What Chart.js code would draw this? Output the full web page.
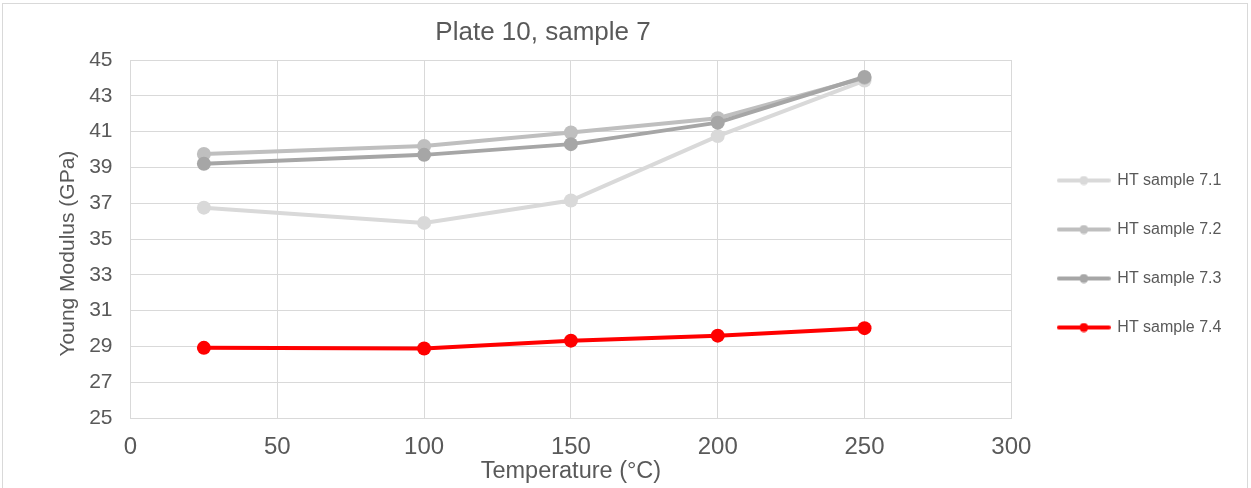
<!DOCTYPE html>
<html>
<head>
<meta charset="utf-8">
<script src="https://cdn.jsdelivr.net/npm/chart.js@4.4.1/dist/chart.umd.min.js"></script>
<style>
  html, body { margin: 0; padding: 0; background: #ffffff; }
  #wrap { position: relative; width: 1251px; height: 488px; }
</style>
</head>
<body>
<div id="wrap"><canvas id="c" width="1251" height="488"></canvas></div>
<script>
// ---- data ----
const chartTitle = 'Plate 10, sample 7';
const xTitle = 'Temperature (°C)';
const yTitle = 'Young Modulus (GPa)';
const temperatures = [25, 100, 150, 200, 250];
const seriesNames = ['HT sample 7.1', 'HT sample 7.2', 'HT sample 7.3', 'HT sample 7.4'];
const sample71 = [36.75, 35.90, 37.15, 40.75, 43.85];
const sample72 = [39.75, 40.20, 40.95, 41.75, 44.00];
const sample73 = [39.20, 39.70, 40.30, 41.50, 44.05];
const sample74 = [28.92, 28.88, 29.32, 29.60, 30.02];
const seriesColors = ['#d9d9d9', '#bfbfbf', '#a6a6a6', '#ff0000'];
const xMin = 0, xMax = 300, xStep = 50;
const yMin = 25, yMax = 45, yStep = 2;

const FONT = "'Liberation Sans', Arial, sans-serif";
const TEXT = '#595959';
const GRID = '#d9d9d9';

const allSeries = [sample71, sample72, sample73, sample74];

function toPoints(vals) {
  return temperatures.map((t, i) => ({ x: t, y: vals[i] }));
}

function legendImage(color) {
  const cv = document.createElement('canvas');
  cv.width = 54; cv.height = 10;
  const g = cv.getContext('2d');
  g.strokeStyle = color;
  g.lineWidth = 4;
  g.lineCap = 'round';
  g.beginPath(); g.moveTo(2, 5); g.lineTo(52, 5); g.stroke();
  g.fillStyle = color;
  g.beginPath(); g.arc(27, 5, 4.5, 0, Math.PI * 2); g.fill();
  return cv;
}
const legendImages = seriesColors.map(legendImage);

const datasets = allSeries.map((vals, i) => ({
  label: seriesNames[i],
  data: toPoints(vals),
  borderColor: seriesColors[i],
  backgroundColor: seriesColors[i],
  pointBackgroundColor: seriesColors[i],
  pointBorderColor: seriesColors[i],
  pointBorderWidth: 0,
  pointRadius: 7,
  pointHoverRadius: 7,
  borderWidth: 4,
  tension: 0,
  fill: false,
  order: allSeries.length - i
}));

const decor = {
  id: 'decor',
  afterDraw(chart) {
    const ctx = chart.ctx;
    ctx.save();
    ctx.strokeStyle = GRID;
    ctx.lineWidth = 1;
    ctx.strokeRect(2.5, 3.5, 1245, 500);
    ctx.fillStyle = TEXT;
    ctx.font = '26px ' + FONT;
    ctx.textAlign = 'center';
    ctx.textBaseline = 'middle';
    ctx.fillText(chartTitle, 543, 33);
    ctx.restore();
  }
};

// trailing spaces nudge the rotated y title slightly downwards, as in the reference
const yTitleShifted = yTitle + '\u00a0\u00a0\u00a0\u00a0\u00a0';

new Chart(document.getElementById('c'), {
  type: 'line',
  data: { datasets },
  options: {
    responsive: false,
    animation: false,
    events: [],
    layout: { padding: { left: 47, top: 60, right: 30, bottom: 2 } },
    plugins: {
      title: { display: false },
      tooltip: { enabled: false },
      legend: {
        position: 'right',
        align: 'center',
        fullSize: false,
        title: { display: true, text: ' ', font: { size: 10 }, padding: { top: 9, bottom: 9 } },
        labels: {
          usePointStyle: true,
          pointStyleWidth: 51,
          padding: 33,
          color: TEXT,
          font: { family: FONT, size: 16 },
          sort: (a, b) => a.datasetIndex - b.datasetIndex,
          generateLabels: (chart) => chart.data.datasets.map((ds, i) => ({
            text: ds.label,
            fillStyle: seriesColors[i],
            strokeStyle: seriesColors[i],
            lineWidth: 0,
            pointStyle: legendImages[i],
            hidden: false,
            datasetIndex: i,
            fontColor: TEXT
          }))
        }
      }
    },
    scales: {
      x: {
        type: 'linear',
        min: xMin, max: xMax,
        ticks: { stepSize: xStep, color: TEXT, font: { family: FONT, size: 24 }, padding: 15 },
        grid: { color: GRID, lineWidth: 1, drawTicks: false },
        border: { color: GRID, width: 1 },
        title: { display: true, text: xTitle, color: TEXT, font: { family: FONT, size: 23.5 }, padding: { top: 0, bottom: 0 } },
        afterFit: (s) => { s.height = 68; }
      },
      y: {
        type: 'linear',
        min: yMin, max: yMax,
        ticks: { stepSize: yStep, color: TEXT, font: { family: FONT, size: 21 }, padding: 18 },
        grid: { color: GRID, lineWidth: 1, drawTicks: false },
        border: { color: GRID, width: 1 },
        title: { display: true, text: yTitleShifted, color: TEXT, font: { family: FONT, size: 21 }, padding: { top: 8.5, bottom: 0 } },
        afterFit: (s) => { s.width = 83.5; }
      },
      y2: {
        type: 'linear',
        position: 'right',
        display: true,
        ticks: { display: false },
        grid: { display: false, drawTicks: false },
        border: { display: false },
        afterFit: (s) => { s.width = 14; }
      }
    }
  },
  plugins: [decor]
});
</script>
</body>
</html>
